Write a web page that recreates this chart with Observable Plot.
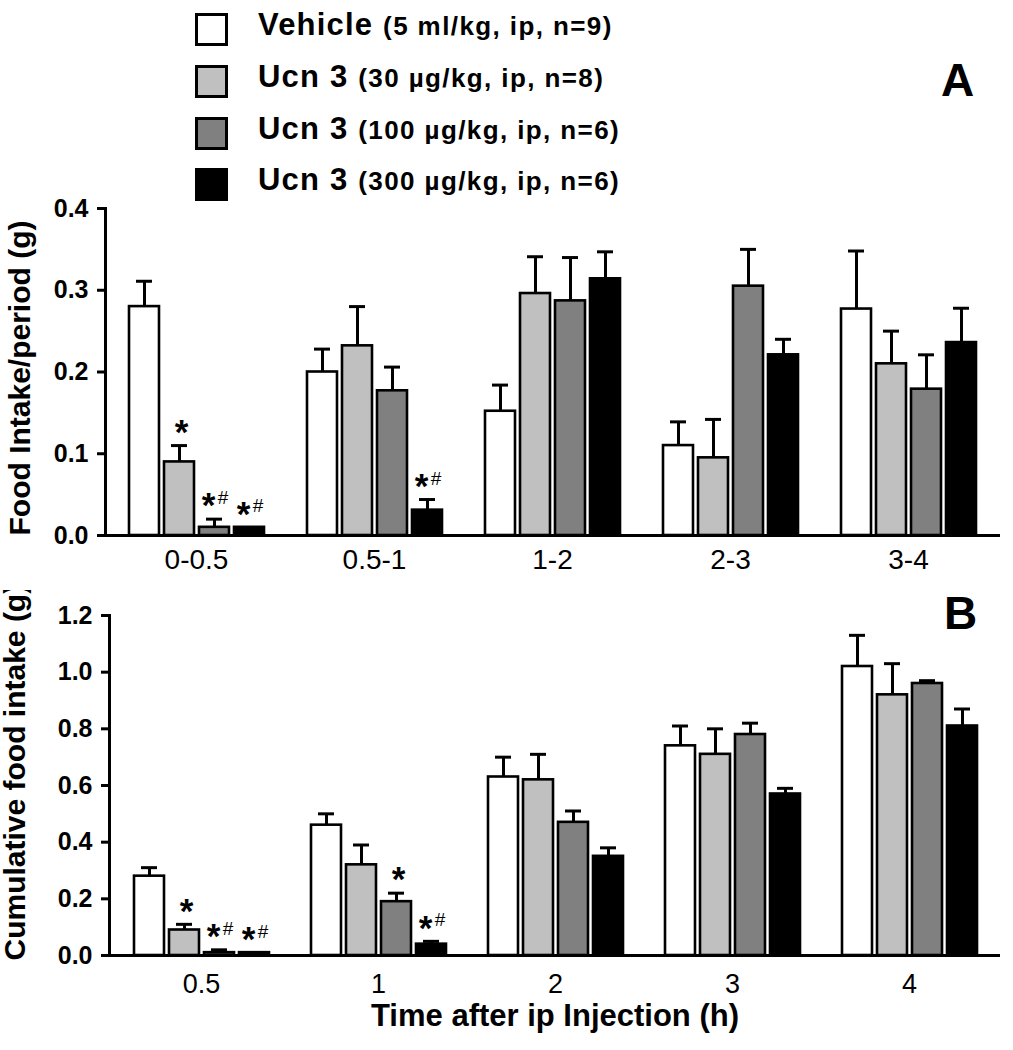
<!DOCTYPE html>
<html>
<head>
<meta charset="utf-8">
<script src="https://cdn.jsdelivr.net/npm/d3@7"></script>
<script src="https://cdn.jsdelivr.net/npm/@observablehq/plot@0.6"></script>
<style>
  body { margin: 0; background: #fff; font-family: "Liberation Sans", Arial, sans-serif; }
  #wrap { width: 1013px; position: relative; }
  #legend { position: relative; height: 205px; }
  .sw { position: absolute; left: 195px; width: 33px; height: 33px; box-sizing: border-box; border: 3px solid #000; }
  .lt { position: absolute; left: 258px; font-weight: bold; font-size: 31px; line-height: 31px; letter-spacing: 1.2px; white-space: nowrap; color: #000; }
  .lt span { font-size: 26px; letter-spacing: 1.4px; }
  .panel { position: absolute; font-weight: bold; font-size: 46px; line-height: 46px; z-index: 3; }
  .pane { position: relative; width: 1013px; }
  .pane svg { display: block; position: absolute; left: 0; top: 0; }
</style>
</head>
<body>
<div id="wrap">
  <div id="legend"></div>
  <div id="paneA" class="pane" style="height:385px"></div>
  <div id="paneB" class="pane" style="height:460px; overflow:hidden"></div>
</div>
<script>
// ---- data ----
const series = ["Vehicle", "Ucn 3 (30)", "Ucn 3 (100)", "Ucn 3 (300)"];
const colors = ["#ffffff", "#c0c0c0", "#808080", "#000000"];
const legendNames = ["Vehicle", "Ucn 3", "Ucn 3", "Ucn 3"];
const legendDetails = ["(5 ml/kg, ip, n=9)", "(30 µg/kg, ip, n=8)", "(100 µg/kg, ip, n=6)", "(300 µg/kg, ip, n=6)"];
const panelLetters = ["A", "B"];

// Panel A: food intake per period (g)
const periodsA = ["0-0.5", "0.5-1", "1-2", "2-3", "3-4"];
const vehicleA = [0.28, 0.20, 0.152, 0.110, 0.277];
const ucn30A   = [0.09, 0.232, 0.296, 0.095, 0.210];
const ucn100A  = [0.01, 0.177, 0.287, 0.305, 0.179];
const ucn300A  = [0.01, 0.031, 0.314, 0.221, 0.236];
const vehicleSemA = [0.031, 0.028, 0.032, 0.029, 0.071];
const ucn30SemA   = [0.020, 0.048, 0.045, 0.047, 0.040];
const ucn100SemA  = [0.010, 0.029, 0.053, 0.045, 0.042];
const ucn300SemA  = [0.000, 0.013, 0.033, 0.019, 0.042];
const yTicksA = [0, 0.1, 0.2, 0.3, 0.4];
const starsA = [
  {group: "0-0.5", series: "Ucn 3 (30)", hash: false},
  {group: "0-0.5", series: "Ucn 3 (100)", hash: true},
  {group: "0-0.5", series: "Ucn 3 (300)", hash: true},
  {group: "0.5-1", series: "Ucn 3 (300)", hash: true}
];

// Panel B: cumulative food intake (g)
const timesB = ["0.5", "1", "2", "3", "4"];
const vehicleB = [0.28, 0.46, 0.63, 0.74, 1.02];
const ucn30B   = [0.09, 0.32, 0.62, 0.71, 0.92];
const ucn100B  = [0.01, 0.19, 0.47, 0.78, 0.96];
const ucn300B  = [0.01, 0.04, 0.35, 0.57, 0.81];
const vehicleSemB = [0.03, 0.04, 0.07, 0.07, 0.11];
const ucn30SemB   = [0.02, 0.07, 0.09, 0.09, 0.11];
const ucn100SemB  = [0.01, 0.03, 0.04, 0.04, 0.01];
const ucn300SemB  = [0.00, 0.01, 0.03, 0.02, 0.06];
const yTicksB = [0, 0.2, 0.4, 0.6, 0.8, 1.0, 1.2];
const starsB = [
  {group: "0.5", series: "Ucn 3 (30)", hash: false},
  {group: "0.5", series: "Ucn 3 (100)", hash: true},
  {group: "0.5", series: "Ucn 3 (300)", hash: true},
  {group: "1", series: "Ucn 3 (100)", hash: false},
  {group: "1", series: "Ucn 3 (300)", hash: true}
];

// ---- build tables ----
function rows(groups, means, sems) {
  return groups.flatMap((g, i) => series.map((s, j) => ({group: g, series: s, value: means[j][i], sem: sems[j][i]})));
}
const dataA = rows(periodsA, [vehicleA, ucn30A, ucn100A, ucn300A], [vehicleSemA, ucn30SemA, ucn100SemA, ucn300SemA]);
const dataB = rows(timesB, [vehicleB, ucn30B, ucn100B, ucn300B], [vehicleSemB, ucn30SemB, ucn100SemB, ucn300SemB]);
function attachStars(stars, data) {
  return stars.map(s => {
    const d = data.find(r => r.group === s.group && r.series === s.series);
    return {...s, top: d.value + d.sem};
  });
}

// ---- legend ----
const legend = document.getElementById("legend");
const swTops = [13, 65, 117, 168];
series.forEach((s, i) => {
  const sw = document.createElement("div");
  sw.className = "sw";
  sw.style.top = swTops[i] + "px";
  sw.style.background = colors[i];
  legend.appendChild(sw);
  const t = document.createElement("div");
  t.className = "lt";
  t.style.top = (swTops[i] + 22 - 26) + "px";
  t.textContent = legendNames[i] + " ";
  const sp = document.createElement("span");
  sp.textContent = legendDetails[i];
  t.appendChild(sp);
  legend.appendChild(t);
});

// panel letters
const wrapEl = document.getElementById("wrap");
[[panelLetters[0], 57, 941], [panelLetters[1], 590, 944]].forEach(([txt, top, left]) => {
  const d = document.createElement("div");
  d.className = "panel";
  d.style.top = top + "px";
  d.style.left = left + "px";
  d.textContent = txt;
  wrapEl.appendChild(d);
});

const FONT = "Liberation Sans, Arial, sans-serif";

// ---- bars (faceted by group) ----
function barsPlot({data, groups, yDomain, stars, height, marginLeft, marginTop, marginBottom, fxPad, fxSize}) {
  const tops = attachStars(stars, data);
  const withSem = data.filter(d => d.sem > 0);
  return Plot.plot({
    width: 1013, height, marginLeft, marginRight: 13, marginTop, marginBottom,
    style: {fontFamily: FONT, background: "transparent", color: "#000", overflow: "visible"},
    fx: {domain: groups, paddingInner: 0.234, paddingOuter: 0.124, label: null},
    x: {domain: series, paddingInner: 0.15, paddingOuter: 0, axis: null},
    y: {domain: yDomain, axis: null},
    color: {domain: series, range: colors},
    marks: [
      Plot.axisFx({anchor: "bottom", tickSize: 0, tickPadding: fxPad, fontSize: fxSize, label: null}),
      Plot.barY(data, {fx: "group", x: "series", y: "value", fill: "series", stroke: "#000", strokeWidth: 2.6}),
      Plot.ruleX(withSem, {fx: "group", x: "series", y1: "value", y2: d => d.value + d.sem, stroke: "#000", strokeWidth: 3}),
      Plot.tickY(withSem, {fx: "group", x: "series", y: d => d.value + d.sem, stroke: "#000", strokeWidth: 3, insetLeft: 7, insetRight: 7}),
      Plot.text(tops.filter(d => !d.hash), {fx: "group", x: "series", y: "top", text: () => "*", fontSize: 35, fontWeight: "bold", dx: 2, dy: -13}),
      Plot.text(tops.filter(d => d.hash), {fx: "group", x: "series", y: "top", text: () => "*", fontSize: 35, fontWeight: "bold", dx: -6, dy: -13}),
      Plot.text(tops.filter(d => d.hash), {fx: "group", x: "series", y: "top", text: () => "#", fontSize: 19, dx: 8.5, dy: -21})
    ]
  });
}

// ---- axes / frame / labels overlay (not faceted) ----
function axesPlot({yDomain, yTicks, height, marginLeft, marginTop, marginBottom, yLabel, labelAnchor, labelDy, overflow, extra}) {
  return Plot.plot({
    width: 1013, height, marginLeft, marginRight: 13, marginTop, marginBottom,
    style: {fontFamily: FONT, background: "transparent", color: "#000", overflow},
    y: {domain: yDomain, label: null},
    marks: [
      Plot.frame({anchor: "left", stroke: "#000", strokeWidth: 3}),
      Plot.ruleY([0], {stroke: "#000", strokeWidth: 3}),
      Plot.axisY({ticks: yTicks, tickFormat: d3.format(".1f"), tickSize: 8, tickPadding: 9,
                  strokeWidth: 3, fontSize: 25, fontWeight: "bold", label: null}),
      Plot.text([yLabel], {frameAnchor: labelAnchor, rotate: -90, textAnchor: labelAnchor === "left" ? "middle" : "start",
                           dx: -85, dy: labelDy, fontSize: 30, fontWeight: "bold", style: "letter-spacing:1px"}),
      ...extra
    ]
  });
}

const geomA = {height: 385, marginLeft: 105, marginTop: 3, marginBottom: 55, yDomain: [0, 0.4]};
const geomB = {height: 460, marginLeft: 109, marginTop: 25, marginBottom: 95, yDomain: [0, 1.2]};

const paneA = document.getElementById("paneA");
paneA.appendChild(barsPlot({...geomA, data: dataA, groups: periodsA, stars: starsA, fxPad: 14, fxSize: 28}));
paneA.appendChild(axesPlot({...geomA, yTicks: yTicksA, yLabel: "Food Intake/period (g)", labelAnchor: "left", labelDy: 6,
                            overflow: "visible", extra: []}));

const paneB = document.getElementById("paneB");
paneB.appendChild(barsPlot({...geomB, data: dataB, groups: timesB, stars: starsB, fxPad: 18, fxSize: 27}));
paneB.appendChild(axesPlot({...geomB, yTicks: yTicksB, yLabel: "Cumulative food intake (g)", labelAnchor: "bottom-left", labelDy: 5,
  overflow: "hidden",
  extra: [
    Plot.text(["Time after ip Injection (h)"], {frameAnchor: "bottom", dy: 70, fontSize: 31, fontWeight: "bold"})
  ]}));
</script>
</body>
</html>
